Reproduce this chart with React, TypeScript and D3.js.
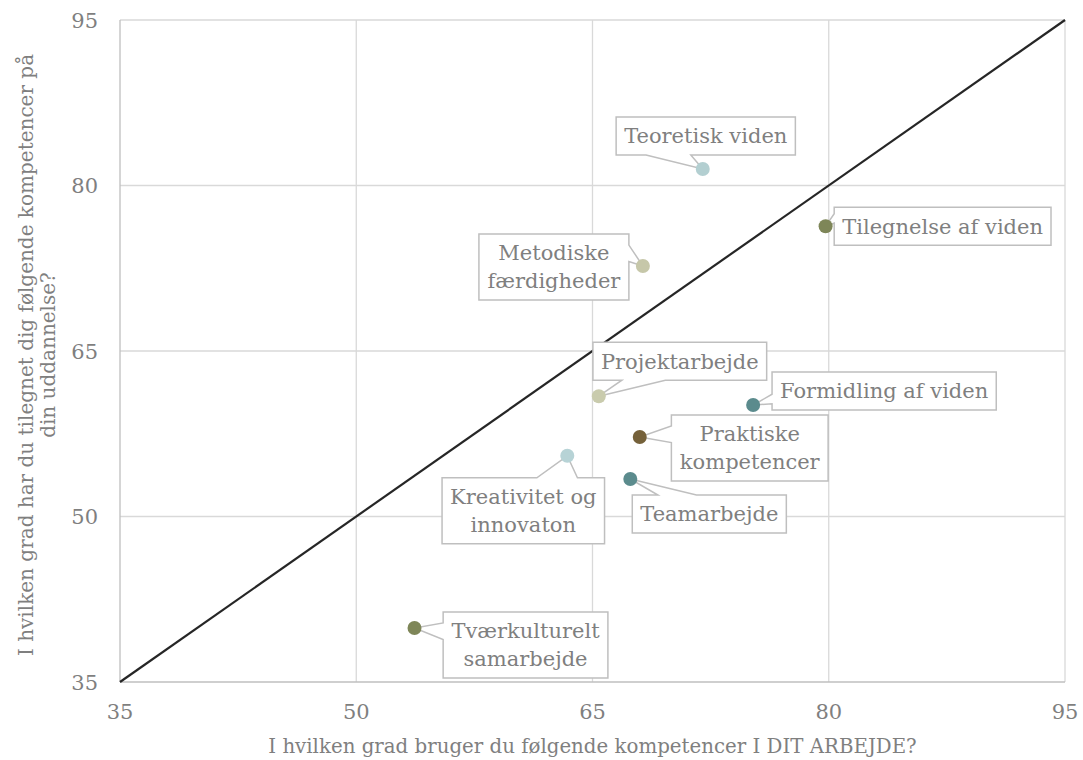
import React, { useEffect, useRef } from "react";
import * as d3 from "d3";

const categories = [
  "Teoretisk viden",
  "Tilegnelse af viden",
  "Metodiske færdigheder",
  "Projektarbejde",
  "Formidling af viden",
  "Praktiske kompetencer",
  "Kreativitet og innovaton",
  "Teamarbejde",
  "Tværkulturelt samarbejde",
];
const arbejdeValues = [72.0, 79.8, 68.2, 65.4, 75.2, 68.0, 63.4, 67.4, 53.7];
const uddannelseValues = [81.5, 76.3, 72.7, 60.9, 60.1, 57.2, 55.5, 53.4, 39.9];
const pointColors = [
  "#b3cfd1", "#7e8658", "#c6c7a9", "#c9cbad", "#5b8b8d",
  "#75613a", "#b7d3d6", "#5b8b8d", "#7e8658",
];
const tickValues = [35, 50, 65, 80, 95];
const xTitle = "I hvilken grad bruger du følgende kompetencer I DIT ARBEJDE?";
const yTitleLines = ["I hvilken grad har du tilegnet dig følgende kompetencer på", "din uddannelse?"];

// label layout: box-centre offset from point (px) and wrap flag
const labelLayout = [
  { dx: 3, dy: -33, wrap: false },
  { dx: 117, dy: 0, wrap: false },
  { dx: -89, dy: 1, wrap: true },
  { dx: 81, dy: -35, wrap: false },
  { dx: 131, dy: -14, wrap: false },
  { dx: 110, dy: 11, wrap: true },
  { dx: -44, dy: 55, wrap: true },
  { dx: 79, dy: 35, wrap: false },
  { dx: 111, dy: 17, wrap: true },
];

const FONT = "'DejaVu Serif', serif";
const GREY = "#7f7f7f";

function calloutPath(x0: number, y0: number, w: number, h: number, tx: number, ty: number) {
  const cx = x0 + w / 2, cy = y0 + h / 2;
  const dxPos = tx - cx, dyPos = ty - cy;
  const x1s = x0 + w, y1s = y0 + h;
  if (Math.abs(dxPos) <= w / 2 && Math.abs(dyPos) <= h / 2) {
    return `M${x0},${y0}H${x1s}V${y1s}H${x0}Z`;
  }
  const dx = (dxPos * h) / w;
  const xg1 = dxPos > 0 ? 7 : 2, xg2 = dxPos > 0 ? 10 : 5;
  const yg1 = dyPos > 0 ? 7 : 2, yg2 = dyPos > 0 ? 10 : 5;
  const xa = x0 + (w * xg1) / 12, xb = x0 + (w * xg2) / 12;
  const ya = y0 + (h * yg1) / 12, yb = y0 + (h * yg2) / 12;
  if (Math.abs(dyPos) > Math.abs(dx)) {
    if (dyPos < 0) {
      return `M${x0},${y0}L${xa},${y0}L${tx},${ty}L${xb},${y0}L${x1s},${y0}L${x1s},${y1s}L${x0},${y1s}Z`;
    }
    return `M${x0},${y0}L${x1s},${y0}L${x1s},${y1s}L${xb},${y1s}L${tx},${ty}L${xa},${y1s}L${x0},${y1s}Z`;
  }
  if (dxPos < 0) {
    return `M${x0},${y0}L${x1s},${y0}L${x1s},${y1s}L${x0},${y1s}L${x0},${yb}L${tx},${ty}L${x0},${ya}Z`;
  }
  return `M${x0},${y0}L${x1s},${y0}L${x1s},${ya}L${tx},${ty}L${x1s},${yb}L${x1s},${y1s}L${x0},${y1s}Z`;
}

export default function App() {
  const ref = useRef<SVGSVGElement>(null);

  useEffect(() => {
    const svg = d3.select(ref.current);
    svg.selectAll("*").remove();
    const W = 1083, H = 760;
    const m = { left: 120, right: 18, top: 20, bottom: 78 };
    const x = d3.scaleLinear().domain([35, 95]).range([m.left, W - m.right]);
    const y = d3.scaleLinear().domain([35, 95]).range([H - m.bottom, m.top]);

    svg.append("rect").attr("width", W).attr("height", H).attr("fill", "#fff");

    const g = svg.append("g");
    g.selectAll(".vg").data(tickValues.slice(1)).join("line")
      .attr("x1", (d) => x(d)).attr("x2", (d) => x(d))
      .attr("y1", y(35)).attr("y2", y(95))
      .attr("stroke", "#d9d9d9").attr("stroke-width", 1.3);
    g.selectAll(".hg").data(tickValues.slice(1)).join("line")
      .attr("y1", (d) => y(d)).attr("y2", (d) => y(d))
      .attr("x1", x(35)).attr("x2", x(95))
      .attr("stroke", "#d9d9d9").attr("stroke-width", 1.3);
    g.append("line").attr("x1", x(35)).attr("x2", x(35)).attr("y1", y(35)).attr("y2", y(95))
      .attr("stroke", "#bfbfbf").attr("stroke-width", 1.3);
    g.append("line").attr("x1", x(35)).attr("x2", x(95)).attr("y1", y(35)).attr("y2", y(35))
      .attr("stroke", "#bfbfbf").attr("stroke-width", 1.3);

    g.selectAll(".xt").data(tickValues).join("text")
      .attr("x", (d) => x(d)).attr("y", y(35) + 37)
      .attr("text-anchor", "middle").attr("font-family", FONT).attr("font-size", 21)
      .attr("fill", GREY).text((d) => d);
    g.selectAll(".yt").data(tickValues).join("text")
      .attr("x", x(35) - 22).attr("y", (d) => y(d)).attr("dy", "0.36em")
      .attr("text-anchor", "end").attr("font-family", FONT).attr("font-size", 21)
      .attr("fill", GREY).text((d) => d);

    g.append("text").attr("x", (x(35) + x(95)) / 2).attr("y", 753)
      .attr("text-anchor", "middle").attr("font-family", FONT).attr("font-size", 19.8)
      .attr("fill", GREY).text(xTitle);
    const yt = g.append("text").attr("transform", `translate(${33},${y(65) + 4}) rotate(-90)`)
      .attr("text-anchor", "middle").attr("font-family", FONT).attr("font-size", 20)
      .attr("fill", GREY);
    yTitleLines.forEach((l, i) => {
      yt.append("tspan").attr("x", 0).attr("dy", i === 0 ? 0 : 22).text(l);
    });

    g.append("line").attr("x1", x(35)).attr("y1", y(35)).attr("x2", x(95)).attr("y2", y(95))
      .attr("stroke", "#262626").attr("stroke-width", 2.2);

    const lg = g.append("g");
    categories.forEach((name, i) => {
      const px = x(arbejdeValues[i]), py = y(uddannelseValues[i]);
      const lay = labelLayout[i];
      const cx = px + lay.dx, cy = py + lay.dy;
      let lines = [name];
      if (lay.wrap) {
        const sp = name.lastIndexOf(" ");
        lines = [name.slice(0, sp), name.slice(sp + 1)];
      }
      const lh = 28;
      const fs = 21;
      const t = lg.append("text").attr("font-family", FONT).attr("font-size", fs)
        .attr("fill", GREY).attr("text-anchor", "middle");
      lines.forEach((l, k) => {
        t.append("tspan").attr("x", cx)
          .attr("y", cy + (k - (lines.length - 1) / 2) * lh).attr("dy", "0.35em").text(l);
      });
      const bb = (t.node() as SVGTextElement).getBBox();
      const w = bb.width + 16;
      const h = lines.length === 1 ? 38 : 66;
      const x0 = cx - w / 2, y0 = cy - h / 2;
      lg.insert("path", () => t.node())
        .attr("d", calloutPath(x0, y0, w, h, px, py))
        .attr("fill", "#fff").attr("stroke", "#bfbfbf").attr("stroke-width", 1.5);
    });

    g.selectAll(".pt").data(categories).join("circle")
      .attr("cx", (_, i) => x(arbejdeValues[i]))
      .attr("cy", (_, i) => y(uddannelseValues[i]))
      .attr("r", 7).attr("fill", (_, i) => pointColors[i]);
  }, []);

  return (
    <svg ref={ref} width={1083} height={760}
      style={{ position: "absolute", left: 0, top: 0, display: "block" }} />
  );
}
